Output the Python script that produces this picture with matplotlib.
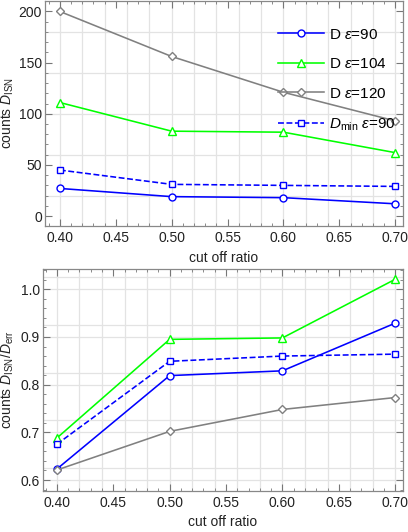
import numpy as np
import matplotlib
matplotlib.use("Agg")
import matplotlib.pyplot as plt
from matplotlib.ticker import MultipleLocator

# data
cut = [0.40, 0.50, 0.60, 0.70]

# top panel: counts D_ISN
d90 = [27, 19, 18, 12]
d104 = [111, 83, 82, 62]
d120 = [200, 156, 121, 93]
dmin90 = [45, 31, 30, 29]

# bottom panel: counts D_ISN / D_err
r90 = [0.623, 0.819, 0.829, 0.929]
r104 = [0.688, 0.895, 0.898, 1.021]
r120 = [0.621, 0.702, 0.748, 0.773]
rmin90 = [0.675, 0.849, 0.860, 0.864]

labels = [r'D $\varepsilon$=90', r'D $\varepsilon$=104', r'D $\varepsilon$=120',
          r'$D_{\rm min}$ $\varepsilon$=90']

plt.rcParams['font.family'] = ['Liberation Sans', 'DejaVu Sans']
plt.rcParams['mathtext.fontset'] = 'custom'
plt.rcParams['mathtext.rm'] = 'Liberation Sans'
plt.rcParams['mathtext.it'] = 'Liberation Sans:italic'
plt.rcParams['mathtext.fallback'] = 'stixsans'

fig = plt.figure(figsize=(4.08, 5.32), dpi=100)
ax1 = fig.add_axes([0.110, 0.575, 0.878, 0.424])
ax2 = fig.add_axes([0.105, 0.0776, 0.883, 0.4168])

style = [
    dict(color='#0000ff', marker='o', ls='-'),
    dict(color='#00ff00', marker='^', ls='-'),
    dict(color='#808080', marker='D', ls='-'),
    dict(color='#0000ff', marker='s', ls='--'),
]
msize = [5, 6, 4.5, 4.6]


def frame(ax, xlim, ylim, ymaj, ymin, ygrid):
    ax.set_xlim(*xlim)
    ax.set_ylim(*ylim)
    for x in np.arange(0.40, 0.705, 0.02):
        ax.axvline(x, color='#e3e3e3', lw=0.9, zorder=0)
    for y in ygrid:
        ax.axhline(y, color='#e3e3e3', lw=0.9, zorder=0)
    ax.xaxis.set_major_locator(MultipleLocator(0.05))
    ax.xaxis.set_minor_locator(MultipleLocator(0.01))
    ax.yaxis.set_major_locator(MultipleLocator(ymaj))
    ax.yaxis.set_minor_locator(MultipleLocator(ymin))
    ax.tick_params(which='both', direction='in', top=True, right=True,
                   color='#777777', labelsize=10, labelcolor='#222222')
    ax.tick_params(which='major', length=5, width=0.8)
    ax.tick_params(which='minor', length=2.5, width=0.6)
    ax.tick_params(axis='y', pad=2)
    for s in ax.spines.values():
        s.set_color('#888888')
        s.set_linewidth(0.9)
    ax.set_xlabel('cut off ratio', fontsize=10, labelpad=4, color='#222222')


frame(ax1, (0.3866, 0.707), (-9.8, 210.7), 50, 10, np.arange(20, 201, 40))
ax1.xaxis.set_major_formatter(plt.FuncFormatter(lambda v, p: f'{v:.2f}'))
for ys, st, ms, lab in zip([d90, d104, d120, dmin90], style, msize, labels):
    ax1.plot(cut, ys, lw=1.15, mfc='white', mew=1.0, ms=ms, label=lab, **st)
ax1.set_ylabel(r'counts $D_{\rm ISN}$', fontsize=10, color='#222222')
ax1.yaxis.set_label_coords(-0.08, 0.5)
ax1.legend(loc='upper left', bbox_to_anchor=(0.651, 0.88), frameon=False,
           fontsize=11, handlelength=3.0, handletextpad=0.3, labelspacing=1.02,
           borderpad=0, borderaxespad=0)

grid2 = sorted(list(np.arange(0.6, 1.01, 0.1)) + list(np.arange(0.625, 1.03, 0.1)))
frame(ax2, (0.3876, 0.707), (0.5776, 1.0426), 0.1, 0.02, grid2)
ax2.xaxis.set_major_formatter(plt.FuncFormatter(lambda v, p: f'{v:.2f}'))
for ys, st, ms in zip([r90, r104, r120, rmin90], style, msize):
    ax2.plot(cut, ys, lw=1.15, mfc='white', mew=1.0, ms=ms, **st)
ax2.set_ylabel(r'counts $D_{\rm ISN}/D_{\rm err}$', fontsize=10, color='#222222')
ax2.yaxis.set_label_coords(-0.074, 0.5)

fig.savefig('out.png', dpi=100)
